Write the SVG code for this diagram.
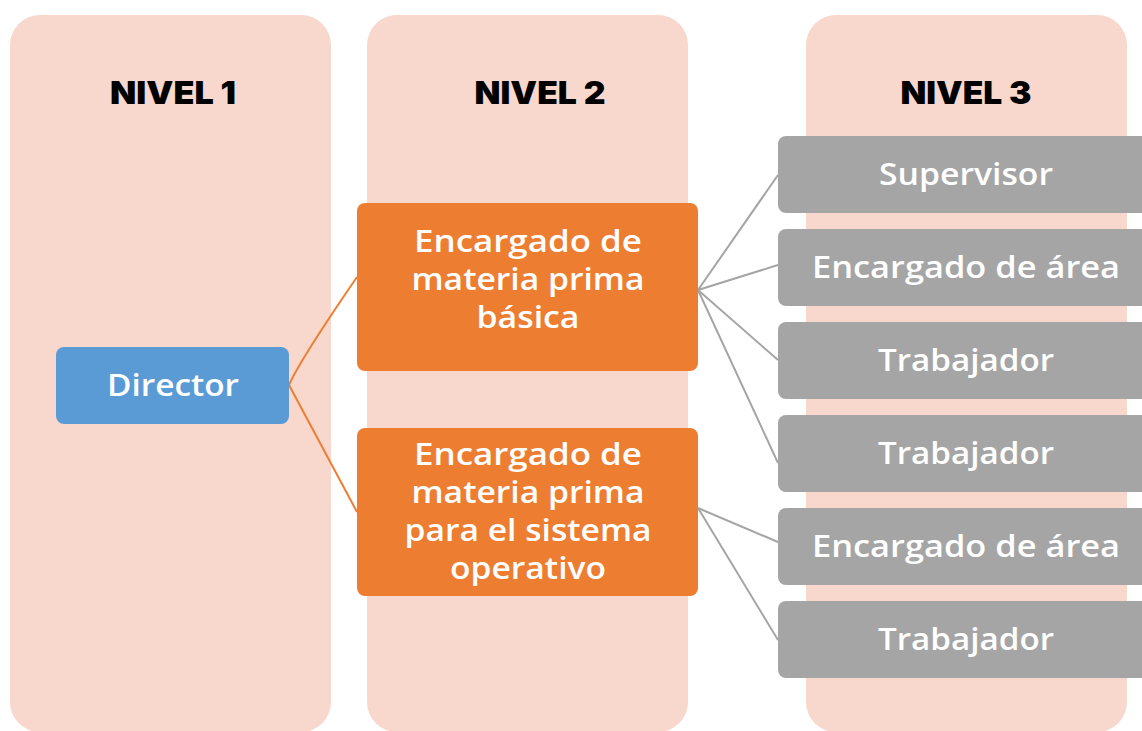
<svg xmlns="http://www.w3.org/2000/svg" width="1142" height="731" viewBox="0 0 1142 731">
<style>
.col{fill:#F8D8CD}
.hdr{font-family:Inter,"Liberation Sans",sans-serif;font-weight:900;font-size:31px;fill:#000;text-anchor:middle}
.t{font-family:"Open Sans","Liberation Sans",sans-serif;font-weight:600;font-size:30px;fill:#fff;text-anchor:middle}
.blue{fill:#5B9BD5}
.orange{fill:#ED7D31}
.gray{fill:#A5A5A5}
.co{stroke:#ED7D31;stroke-width:2;fill:none}
.cg{stroke:#A5A5A5;stroke-width:2;fill:none}
</style>
<rect width="1142" height="731" fill="#fff"/>
<g id="columns">
<rect class="col" x="10" y="15" width="321" height="717" rx="30"/>
<rect class="col" x="367" y="15" width="321" height="717" rx="30"/>
<rect class="col" x="806" y="15" width="321" height="717" rx="30"/>
<text class="hdr" x="173" y="104" textLength="126" lengthAdjust="spacingAndGlyphs">NIVEL 1</text>
<text class="hdr" x="540" y="104" textLength="131" lengthAdjust="spacingAndGlyphs">NIVEL 2</text>
<text class="hdr" x="966" y="104" textLength="131" lengthAdjust="spacingAndGlyphs">NIVEL 3</text>
</g>
<g id="connectors">
<path class="co" d="M289,385 Q300,360 357,277"/>
<path class="co" d="M289,385 L357,512"/>
<path class="cg" d="M698,290 L778,175 M698,290 L778,265 M698,290 L778,360 M698,290 L778,463"/>
<path class="cg" d="M698,508 L778,542 M698,508 L778,640"/>
</g>
<g id="director">
<rect class="blue" x="56" y="347" width="233" height="77" rx="8"/>
<text class="t" x="173" y="396" textLength="132" lengthAdjust="spacingAndGlyphs">Director</text>
</g>
<g id="encargado1">
<rect class="orange" x="357" y="203" width="341" height="168" rx="8"/>
<text class="t" x="528" y="252" textLength="228" lengthAdjust="spacingAndGlyphs">Encargado de</text>
<text class="t" x="528" y="290" textLength="233" lengthAdjust="spacingAndGlyphs">materia prima</text>
<text class="t" x="528" y="328" textLength="103" lengthAdjust="spacingAndGlyphs">básica</text>
</g>
<g id="encargado2">
<rect class="orange" x="357" y="428" width="341" height="168" rx="8"/>
<text class="t" x="528" y="465" textLength="228" lengthAdjust="spacingAndGlyphs">Encargado de</text>
<text class="t" x="528" y="503" textLength="233" lengthAdjust="spacingAndGlyphs">materia prima</text>
<text class="t" x="528" y="541" textLength="247" lengthAdjust="spacingAndGlyphs">para el sistema</text>
<text class="t" x="528" y="579" textLength="156" lengthAdjust="spacingAndGlyphs">operativo</text>
</g>
<g id="supervisor">
<rect class="gray" x="778" y="136" width="380" height="77" rx="8"/>
<text class="t" x="966" y="185" textLength="174" lengthAdjust="spacingAndGlyphs">Supervisor</text>
</g>
<g id="encargado-area1">
<rect class="gray" x="778" y="229" width="380" height="77" rx="8"/>
<text class="t" x="966" y="278" textLength="308" lengthAdjust="spacingAndGlyphs">Encargado de área</text>
</g>
<g id="trabajador1">
<rect class="gray" x="778" y="322" width="380" height="77" rx="8"/>
<text class="t" x="966" y="371" textLength="176" lengthAdjust="spacingAndGlyphs">Trabajador</text>
</g>
<g id="trabajador2">
<rect class="gray" x="778" y="415" width="380" height="77" rx="8"/>
<text class="t" x="966" y="464" textLength="176" lengthAdjust="spacingAndGlyphs">Trabajador</text>
</g>
<g id="encargado-area2">
<rect class="gray" x="778" y="508" width="380" height="77" rx="8"/>
<text class="t" x="966" y="557" textLength="308" lengthAdjust="spacingAndGlyphs">Encargado de área</text>
</g>
<g id="trabajador3">
<rect class="gray" x="778" y="601" width="380" height="77" rx="8"/>
<text class="t" x="966" y="650" textLength="176" lengthAdjust="spacingAndGlyphs">Trabajador</text>
</g>
</svg>
